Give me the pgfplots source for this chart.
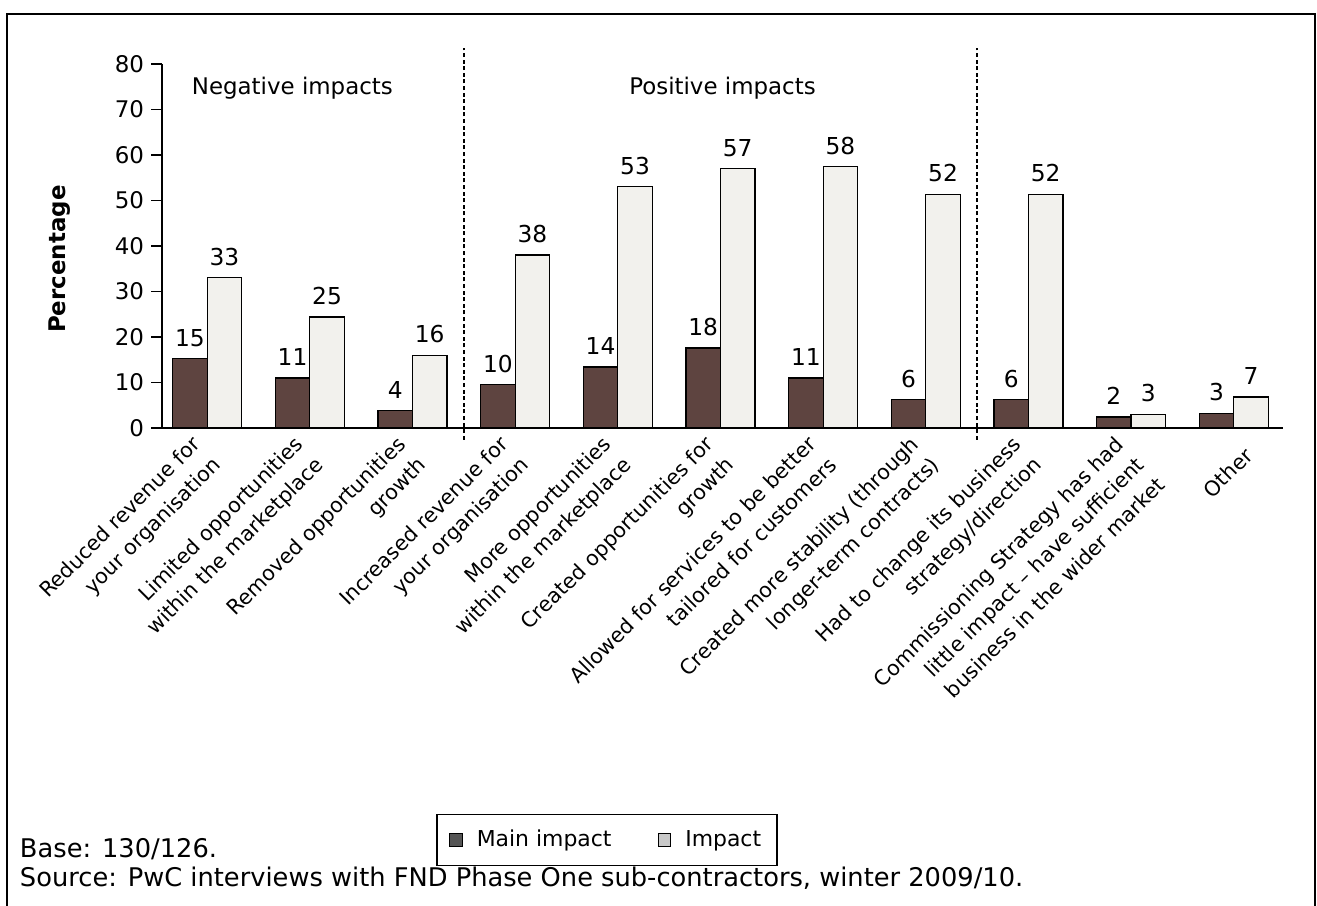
\documentclass[border=0pt]{standalone}
\usepackage{fontspec}
\setmainfont{DejaVu Sans}
\usepackage{pgfplots}
\pgfplotsset{compat=1.18}
\usepackage{pgfplotstable}

\definecolor{maindark}{RGB}{94,68,64}
\definecolor{implight}{RGB}{242,241,237}
\definecolor{legdark}{RGB}{85,85,85}
\definecolor{leglight}{RGB}{200,200,200}

% bar heights as drawn, labels as printed
\pgfplotstableread{
x  main mainlab imp  implab
0  15.2 15      33.0 33
1  11.0 11      24.4 25
2  3.8  4       16.0 16
3  9.5  10      38.0 38
4  13.4 14      53.0 53
5  17.6 18      57.0 57
6  11.0 11      57.4 58
7  6.2  6       51.4 52
8  6.2  6       51.4 52
9  2.4  2       3.0  3
10 3.2  3       6.8  7
}\impacts

\pgfplotsset{
  sqlegend/.style={legend image code/.code={\draw[##1, draw=black, line width=0.5bp] (0bp,-3.2bp) rectangle (6.4bp,3.2bp);}},
}

\begin{document}
\begin{tikzpicture}[font=\fontsize{11.5}{14.5}\selectfont]
\useasboundingbox (0bp,0bp) rectangle (658.5bp,453bp);
\draw[line width=1.1bp] (3.5bp,-2bp) -- (3.5bp,446bp) -- (657.5bp,446bp) -- (657.5bp,-2bp);

\begin{axis}[
    at={(81bp,239bp)}, anchor=south west,
    scale only axis, width=560.5bp, height=182bp,
    xmin=-0.44, xmax=10.48, ymin=0, ymax=80,
    axis x line=bottom, axis y line=left,
    axis line style={-, line width=0.7bp},
    ytick={0,10,...,80},
    xtick={0,...,9},
    xticklabels={
      {Reduced revenue for\\your organisation},
      {Limited opportunities\\within the marketplace},
      {Removed opportunities\\growth},
      {Increased revenue for\\your organisation},
      {More opportunities\\within the marketplace},
      {Created opportunities for\\growth},
      {Allowed for services to be better\\tailored for customers},
      {Created more stability (through\\longer-term contracts)},
      {Had to change its business\\strategy/direction},
      {Commissioning Strategy has had\\little impact – have sufficient\\business in the wider market}},
    extra x ticks={10},
    extra x tick labels={Other},
    extra x tick style={xticklabel style={xshift=5.2bp, yshift=-13.3bp}},
    x tick style={draw=none},
    y tick style={line width=0.7bp, black},
    tick align=outside, major tick length=5.5bp,
    /pgf/number format/assume math mode=true,
    tick label style={font=\fontsize{11.5}{14.5}\selectfont},
    xticklabel style={font=\fontsize{10.4}{14.5}\selectfont, rotate=45, anchor=north east, align=right, xshift=-1bp, yshift=11bp},
    ylabel={Percentage},
    ylabel style={font=\fontsize{11.5}{14.5}\selectfont\bfseries, at={(axis description cs:-0.091,0.464)}, anchor=center},
    ybar=0pt, bar width=17.25bp,
    nodes near coords, point meta=explicit symbolic,
    nodes near coords style={font=\fontsize{11.7}{14.5}\selectfont, yshift=2.5bp},
    clip=false,
    legend columns=2,
    legend style={at={(axis description cs:0.397,-1.132)}, anchor=center,
      draw=black, line width=0.6bp, font=\fontsize{11}{14}\selectfont,
      inner xsep=6bp, inner ysep=6bp,
      /tikz/every odd column/.append style={column sep=5bp},
      /tikz/every even column/.append style={column sep=21bp}},
  ]
  \addplot[fill=maindark, draw=black, line width=0.6bp, sqlegend,
    legend image post style={fill=legdark}]
    table[x=x, y=main, meta=mainlab] {\impacts};
  \addlegendentry{Main impact}
  \addplot[fill=implight, draw=black, line width=0.6bp, sqlegend,
    legend image post style={fill=leglight}]
    table[x=x, y=imp, meta=implab] {\impacts};
  \addlegendentry{Impact}

  \draw[black, line width=0.8bp, dash pattern=on 2bp off 1.3bp]
    (axis cs:2.5,-2.6) -- (axis cs:2.5,83.5);
  \draw[black, line width=0.8bp, dash pattern=on 2bp off 1.3bp]
    (axis cs:7.5,-2.6) -- (axis cs:7.5,83.5);
  \node at (axis cs:0.83,74.7) {Negative impacts};
  \node at (axis cs:5.02,74.7) {Positive impacts};
\end{axis}

\node[anchor=base west, inner sep=0pt, font=\fontsize{12.9}{14}\selectfont] at (9.8bp,24.1bp) {Base: 130/126.};
\node[anchor=base west, inner sep=0pt, font=\fontsize{12.9}{14}\selectfont] at (9.8bp,9.6bp) {Source: PwC interviews with FND Phase One sub-contractors, winter 2009/10.};
\end{tikzpicture}
\end{document}
